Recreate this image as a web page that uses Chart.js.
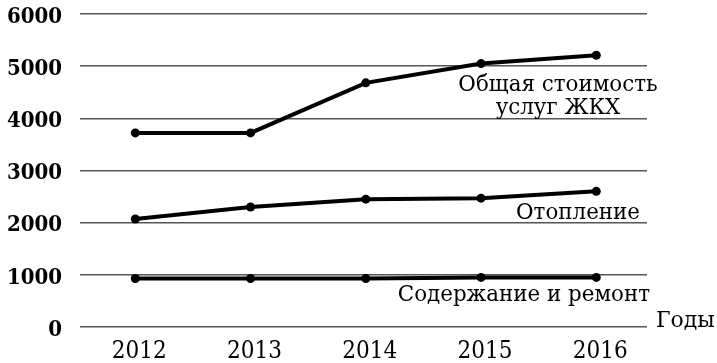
<!DOCTYPE html>
<html>
<head>
<meta charset="utf-8">
<script src="https://cdn.jsdelivr.net/npm/chart.js@4/dist/chart.umd.min.js"></script>
<style>
  html, body { margin: 0; padding: 0; background: #fff; }
  #wrap { width: 717px; height: 363px; }
</style>
</head>
<body>
<div id="wrap"><canvas id="c" width="717" height="363"></canvas></div>
<script>
// Стоимость услуг ЖКХ по годам (руб.)
const years = [2012, 2013, 2014, 2015, 2016];
const totalCost = [3720, 3720, 4680, 5050, 5210];
const heating = [2070, 2300, 2450, 2470, 2600];
const maintenance = [930, 930, 930, 950, 950];
const yTicks = [0, 1000, 2000, 3000, 4000, 5000, 6000];

// подписи рядов: x — точка привязки, y — базовая линия текста
const seriesLabels = [
  { lines: ['Общая стоимость', 'услуг ЖКХ'], x: 558, y: 91, align: 'center' },
  { lines: ['Отопление'], x: 640, y: 219, align: 'right' },
  { lines: ['Содержание и ремонт'], x: 650, y: 301, align: 'right' }
];

const toPoints = vals => vals.map((v, i) => ({ x: years[i], y: v }));

const lineStyle = {
  borderColor: '#000',
  backgroundColor: '#000',
  borderWidth: 4,
  pointRadius: 4.5,
  pointHoverRadius: 4.5,
  pointBackgroundColor: '#000',
  pointBorderWidth: 0,
  tension: 0,
  fill: false
};

const annotations = {
  id: 'annotations',
  afterDraw(chart) {
    const ctx = chart.ctx;
    const area = chart.chartArea;
    ctx.save();
    ctx.fillStyle = '#000';
    ctx.font = '21.4px "DejaVu Serif"';
    ctx.textBaseline = 'alphabetic';
    seriesLabels.forEach(l => {
      ctx.textAlign = l.align;
      l.lines.forEach((t, k) => ctx.fillText(t, l.x, l.y + k * 22.5));
    });
    // подпись оси X
    ctx.textAlign = 'left';
    ctx.font = '22px "DejaVu Serif"';
    ctx.fillText('Годы', area.right + 9, chart.scales.y.getPixelForValue(0));
    ctx.restore();
  }
};

new Chart(document.getElementById('c'), {
  type: 'line',
  data: {
    datasets: [
      Object.assign({ label: 'Общая стоимость услуг ЖКХ', data: toPoints(totalCost) }, lineStyle),
      Object.assign({ label: 'Отопление', data: toPoints(heating) }, lineStyle),
      Object.assign({ label: 'Содержание и ремонт', data: toPoints(maintenance) }, lineStyle)
    ]
  },
  options: {
    responsive: false,
    animation: false,
    layout: { padding: { top: 14, right: 70, bottom: 0, left: 0 } },
    plugins: { legend: { display: false }, tooltip: { enabled: false } },
    scales: {
      x: {
        type: 'linear',
        min: 2011.52,
        max: 2016.44,
        afterBuildTicks: s => { s.ticks = years.map(v => ({ value: v })); },
        afterFit: s => { s.height = 36; s.paddingLeft = 0; s.paddingRight = 0; },
        grid: { display: false, drawTicks: false },
        border: { display: false },
        ticks: {
          padding: 10,
          labelOffset: 4,
          color: '#000',
          font: { family: '"DejaVu Serif Condensed", "DejaVu Serif"', size: 24 },
          callback: v => String(v)
        }
      },
      y: {
        min: 0,
        max: 6000,
        afterBuildTicks: s => { s.ticks = yTicks.map(v => ({ value: v })); },
        afterFit: s => { s.width = 80; s.paddingTop = 0; s.paddingBottom = 0; },
        grid: { color: '#555', lineWidth: 1.5, drawTicks: false },
        border: { display: false },
        ticks: {
          padding: 18,
          labelOffset: 3,
          color: '#000',
          font: { family: '"DejaVu Serif Condensed", "DejaVu Serif"', size: 22, weight: 'bold' },
          callback: v => String(v)
        }
      }
    }
  },
  plugins: [annotations]
});
</script>
</body>
</html>
